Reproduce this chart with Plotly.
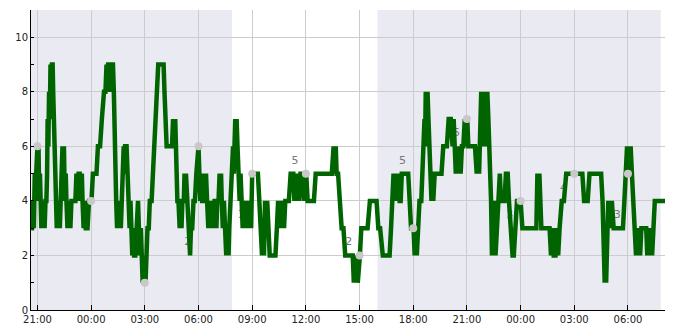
import plotly.graph_objects as go
import pandas as pd

START = pd.Timestamp("2024-01-10 21:00")

# measured series: hours after 21:00 (day 1) and integer values
line_hours = [
    -0.35, -0.3, -0.25, -0.2, -0.15, -0.11, -0.07, -0.03, 0.0, 0.03, 0.06, 0.1, 0.14, 0.18, 0.22, 0.26, 0.3, 0.35, 0.4, 0.45,
    0.5, 0.54, 0.57, 0.61, 0.65, 0.69, 0.73, 0.77, 0.81, 0.85, 0.88,
    0.9, 0.95, 1.0, 1.04, 1.08, 1.12, 1.16, 1.2, 1.25, 1.3, 1.35, 1.4, 1.45, 1.48, 1.53, 1.58, 1.62, 1.68, 1.72, 1.76,
    1.8, 1.84, 1.9, 1.98, 2.05, 2.12, 2.18, 2.24, 2.3, 2.36, 2.42, 2.48, 2.52, 2.58, 2.64, 2.7, 2.8, 2.88, 2.95, 3.02,
    3.1, 3.2, 3.3,
    3.38, 3.5, 3.6, 3.72, 3.8, 3.86, 3.9, 3.95, 4.05, 4.12, 4.17, 4.22, 4.27, 4.31, 4.34, 4.4, 4.45, 4.5, 4.55, 4.6,
    4.66, 4.72, 4.78, 4.82, 4.86, 4.9, 4.98, 5.04, 5.1, 5.15, 5.2, 5.25, 5.3, 5.35, 5.4, 5.47, 5.52, 5.57, 5.62, 5.67,
    5.72, 5.78, 5.83, 5.88, 5.93, 5.97, 6.04, 6.1, 6.15, 6.22, 6.28, 6.38,
    6.45, 6.55, 6.62, 6.67, 6.75, 6.85, 6.95, 7.05, 7.1, 7.18, 7.22, 7.35, 7.45, 7.52, 7.58, 7.65, 7.7, 7.76, 7.82, 7.88,
    7.95, 8.0, 8.05, 8.1, 8.18, 8.22, 8.27, 8.3, 8.36, 8.42, 8.48, 8.53, 8.58, 8.65, 8.72, 8.8, 8.88, 8.95, 9.0, 9.05,
    9.1, 9.15, 9.2, 9.28, 9.33, 9.38, 9.42, 9.48, 9.55, 9.6, 9.65, 9.7, 9.75, 9.8, 9.85, 9.9, 9.95, 10.0, 10.05, 10.12,
    10.18, 10.22, 10.26, 10.3, 10.36, 10.42, 10.48, 10.55, 10.62, 10.68, 10.72, 10.8, 10.87, 10.93, 10.97, 11.0, 11.05,
    11.1, 11.13, 11.18, 11.23, 11.3,
    11.35, 11.41, 11.47, 11.52, 11.58, 11.64, 11.7, 11.76, 11.82, 11.88, 11.94, 12.0, 12.1, 12.2, 12.32, 12.4, 12.48,
    12.55, 12.6, 12.66, 12.72, 12.78, 12.84, 12.9, 12.98, 13.1, 13.2, 13.3, 13.38, 13.45, 13.5, 13.56, 13.62, 13.7,
    13.78, 13.85, 13.95, 14.05, 14.15, 14.22, 14.3, 14.36, 14.42, 14.48, 14.55, 14.62, 14.7, 14.8, 14.9, 14.95, 15.02,
    15.1, 15.2, 15.35, 15.45, 15.55, 15.7, 16.0, 16.3, 16.45, 16.55, 16.62, 16.67, 16.72, 16.8, 16.9, 17.0, 17.1,
    17.2, 17.3, 17.42, 17.55, 17.62, 17.68, 17.72, 17.78, 17.84, 17.9, 17.96, 18.02, 18.1, 18.2, 18.3, 18.45, 18.58,
    18.7, 18.85, 18.95, 19.05, 19.15, 19.3, 19.42, 19.55, 19.68, 19.76, 19.84, 19.9, 19.96, 20.0, 20.06, 20.12, 20.18,
    20.24, 20.3, 20.36, 20.45, 20.55, 20.65, 20.72, 20.8, 20.88, 20.95, 21.02, 21.08, 21.14, 21.2, 21.28, 21.35, 21.45,
    21.52, 21.58, 21.63, 21.66, 21.7, 21.75, 21.8, 21.85, 21.9, 21.96, 22.02, 22.08, 22.12, 22.2, 22.3, 22.45, 22.58,
    22.68, 22.78, 22.88, 22.98, 23.1,
    23.2, 23.26, 23.32, 23.38, 23.45, 23.52, 23.58, 23.65, 23.72, 23.8, 23.88, 23.95, 24.02, 24.08, 24.15, 24.3, 24.45,
    24.55, 24.62, 24.68, 24.75, 24.8, 24.85, 24.9, 24.96, 25.02, 25.08, 25.14, 25.2, 25.26, 25.3, 25.35, 25.4, 25.45,
    25.5, 25.55, 25.6, 25.66, 25.72, 25.78, 25.84, 25.9, 26.0, 26.1, 26.18, 26.28, 26.35, 26.45, 26.55, 26.62, 26.7,
    26.8, 26.9, 27.0, 27.1, 27.25, 27.5, 27.75, 27.88, 27.94, 28.0, 28.05, 28.1, 28.16, 28.3, 28.45, 28.55,
    28.62, 28.7, 28.78, 28.85, 28.95, 29.02, 29.1, 29.18, 29.3, 29.42, 29.55, 29.7, 29.9, 30.1, 30.3, 30.45, 30.55,
    30.65, 30.75, 30.85, 31.0, 31.2, 31.4, 31.5, 31.58, 31.64, 31.7, 31.74, 31.78, 31.82, 31.86, 31.9, 31.95, 32.0,
    32.05, 32.1, 32.2, 32.4, 32.6, 32.72, 32.8, 32.9, 32.95, 33.0, 33.05, 33.1, 33.15, 33.22, 33.3, 33.38, 33.45, 33.5,
    33.55, 33.62, 33.68, 33.75, 33.85, 33.95, 34.02, 34.08, 34.14, 34.2, 34.28, 34.35, 34.42, 34.5, 34.6, 34.75, 34.9,
    35.07,
]
line_values = [
    3, 3, 4, 3, 5, 4, 5, 6, 6, 5, 6, 4, 5, 4, 3, 4, 3, 4, 3, 4,
    4, 5, 7, 6, 8, 7, 9, 8, 9, 9, 8,
    7, 6, 5, 4, 3, 4, 3, 4, 3, 4, 5, 6, 5, 6, 4, 5, 4, 3, 4, 3,
    4, 3, 4, 4, 4, 4, 5, 4, 5, 5, 4, 5, 4, 3, 4, 3, 3, 4, 4, 4,
    5, 5, 5,
    6, 6, 7, 8, 8, 9, 8, 9, 9, 8, 9, 9, 8, 6, 4, 4, 3, 4, 3, 4,
    3, 4, 5, 6, 5, 6, 6, 5, 4, 3, 4, 3, 2, 3, 2, 2, 3, 4, 4, 3,
    2, 3, 2, 1, 2, 1, 1, 2, 3, 3, 4, 4,
    5, 6, 7, 8, 9, 9, 9, 9, 8, 7, 6, 6, 6, 6, 7, 6, 7, 5, 4, 4,
    3, 4, 3, 4, 4, 5, 4, 5, 4, 3, 2, 2, 3, 3, 4, 4, 5, 6, 6, 5,
    4, 5, 4, 4, 5, 4, 5, 4, 3, 4, 3, 4, 3, 4, 3, 4, 4, 3, 4, 4,
    5, 4, 5, 4, 3, 4, 3, 2, 3, 2, 3, 4, 5, 6, 5, 6, 7,
    6, 7, 6, 5, 4,
    5, 4, 3, 4, 3, 4, 3, 4, 3, 4, 3, 5, 5, 5, 5, 4, 3,
    2, 3, 2, 4, 3, 4, 3, 2, 2, 2, 2, 3, 4, 3, 4, 3, 4,
    3, 4, 4, 4, 5, 5, 5, 4, 5, 4, 5, 4, 5, 5, 4, 5, 5,
    4, 4, 4, 4, 5, 5, 5, 5, 5, 6, 5, 6, 5, 5, 4, 3, 3,
    2, 2, 2, 2, 2, 1, 2, 1, 2, 1, 2, 2, 3, 3, 3, 3, 4,
    4, 4, 4, 3, 3, 2, 2, 2, 2, 3, 4, 5, 4, 5, 5, 4, 5,
    4, 4, 5, 5, 5, 5, 5, 4, 3, 3, 3, 2, 3, 2, 3, 4, 4,
    5, 6, 7, 6, 8, 7, 8, 7, 6, 5, 4, 5, 4, 5, 5, 5, 5,
    6, 6, 6, 7, 7,
    6, 7, 6, 5, 6, 5, 6, 5, 6, 6, 7, 6, 7, 6, 6, 6, 6,
    5, 6, 5, 7, 8, 6, 8, 7, 8, 6, 8, 7, 6, 5, 4, 2, 3,
    2, 4, 2, 3, 4, 5, 5, 4, 4, 4, 5, 5, 4, 3, 2, 2, 3,
    4, 4, 4, 3, 3, 3, 3, 3, 5, 4, 5, 4, 3, 3, 3, 3,
    3, 2, 3, 2, 2, 3, 2, 3, 4, 4, 5, 5, 5, 5, 5, 5, 4,
    4, 4, 5, 5, 5, 5, 5, 4, 3, 1, 3, 1, 2, 3, 4, 3, 4,
    3, 4, 3, 3, 3, 3, 4, 5, 6, 5, 6, 5, 6, 5, 4, 3, 2, 3,
    2, 3, 2, 3, 3, 3, 3, 2, 3, 2, 3, 2, 3, 4, 4, 4, 4,
    4,
]

# three-hourly points and their labels
dot_hours = [0, 3, 6, 9, 12, 15, 18, 21, 24, 27, 30, 33]
dot_values = [6, 4, 1, 6, 5, 5, 2, 3, 7, 4, 5, 5]
label_values = [None, 4, 2, 2, 3, 5, 2, 5, 6, 3, 4, 3]

# night shading (start, end) in hours after 21:00 day 1
night_start = [-5.0, 19.0]
night_end = [10.87, 34.83]

x_start_h = -0.36
x_end_h = 35.07


def to_time(h):
    return START + pd.to_timedelta(h, unit="h")


line_x = [to_time(h) for h in line_hours]
dot_x = [to_time(h) for h in dot_hours]
lab_x = [to_time(h) for h, v in zip(dot_hours, label_values) if v is not None]
lab_y = [v for v in label_values if v is not None]

fig = go.Figure()

fig.add_trace(go.Scatter(
    x=lab_x, y=lab_y, mode="markers+text",
    text=[str(v) for v in lab_y], textposition="top left",
    textfont=dict(family="DejaVu Sans", size=11, color="#777777"),
    marker=dict(size=10, color="rgba(0,0,0,0)"),
    hoverinfo="skip", showlegend=False,
))
fig.add_trace(go.Scatter(
    x=line_x, y=line_values, mode="lines",
    line=dict(color="#006400", width=4.5),
    hoverinfo="skip", showlegend=False,
))
fig.add_trace(go.Scatter(
    x=dot_x, y=dot_values, mode="markers",
    marker=dict(size=8, color="#c8c8c8"),
    hoverinfo="skip", showlegend=False,
))

for s, e in zip(night_start, night_end):
    fig.add_shape(type="rect", xref="x", yref="paper",
                  x0=to_time(s), x1=to_time(e), y0=0, y1=1,
                  fillcolor="#EAEAF2", line=dict(width=0), layer="below")

fig.update_layout(
    width=685, height=330,
    margin=dict(l=31, r=20, t=10, b=20),
    paper_bgcolor="white", plot_bgcolor="white",
    font=dict(family="DejaVu Sans", size=10, color="#222222"),
)
fig.update_xaxes(
    range=[to_time(x_start_h), to_time(x_end_h)],
    tickformat="%H:%M", dtick=3 * 3600 * 1000, tick0=to_time(0),
    showgrid=True, gridcolor="#cccccc", gridwidth=1,
    showline=True, linecolor="black", linewidth=1,
    ticks="inside", ticklen=5, tickcolor="black",
    zeroline=False, automargin=False,
)
fig.update_yaxes(
    range=[0, 11], dtick=2, tick0=0,
    showgrid=True, gridcolor="#cccccc", gridwidth=1,
    showline=True, linecolor="black", linewidth=1,
    ticks="inside", ticklen=3, tickcolor="black",
    minor=dict(dtick=1, ticks="inside", ticklen=3, tickcolor="black", showgrid=False),
    zeroline=False, automargin=False,
)

fig.write_html("out.html")
